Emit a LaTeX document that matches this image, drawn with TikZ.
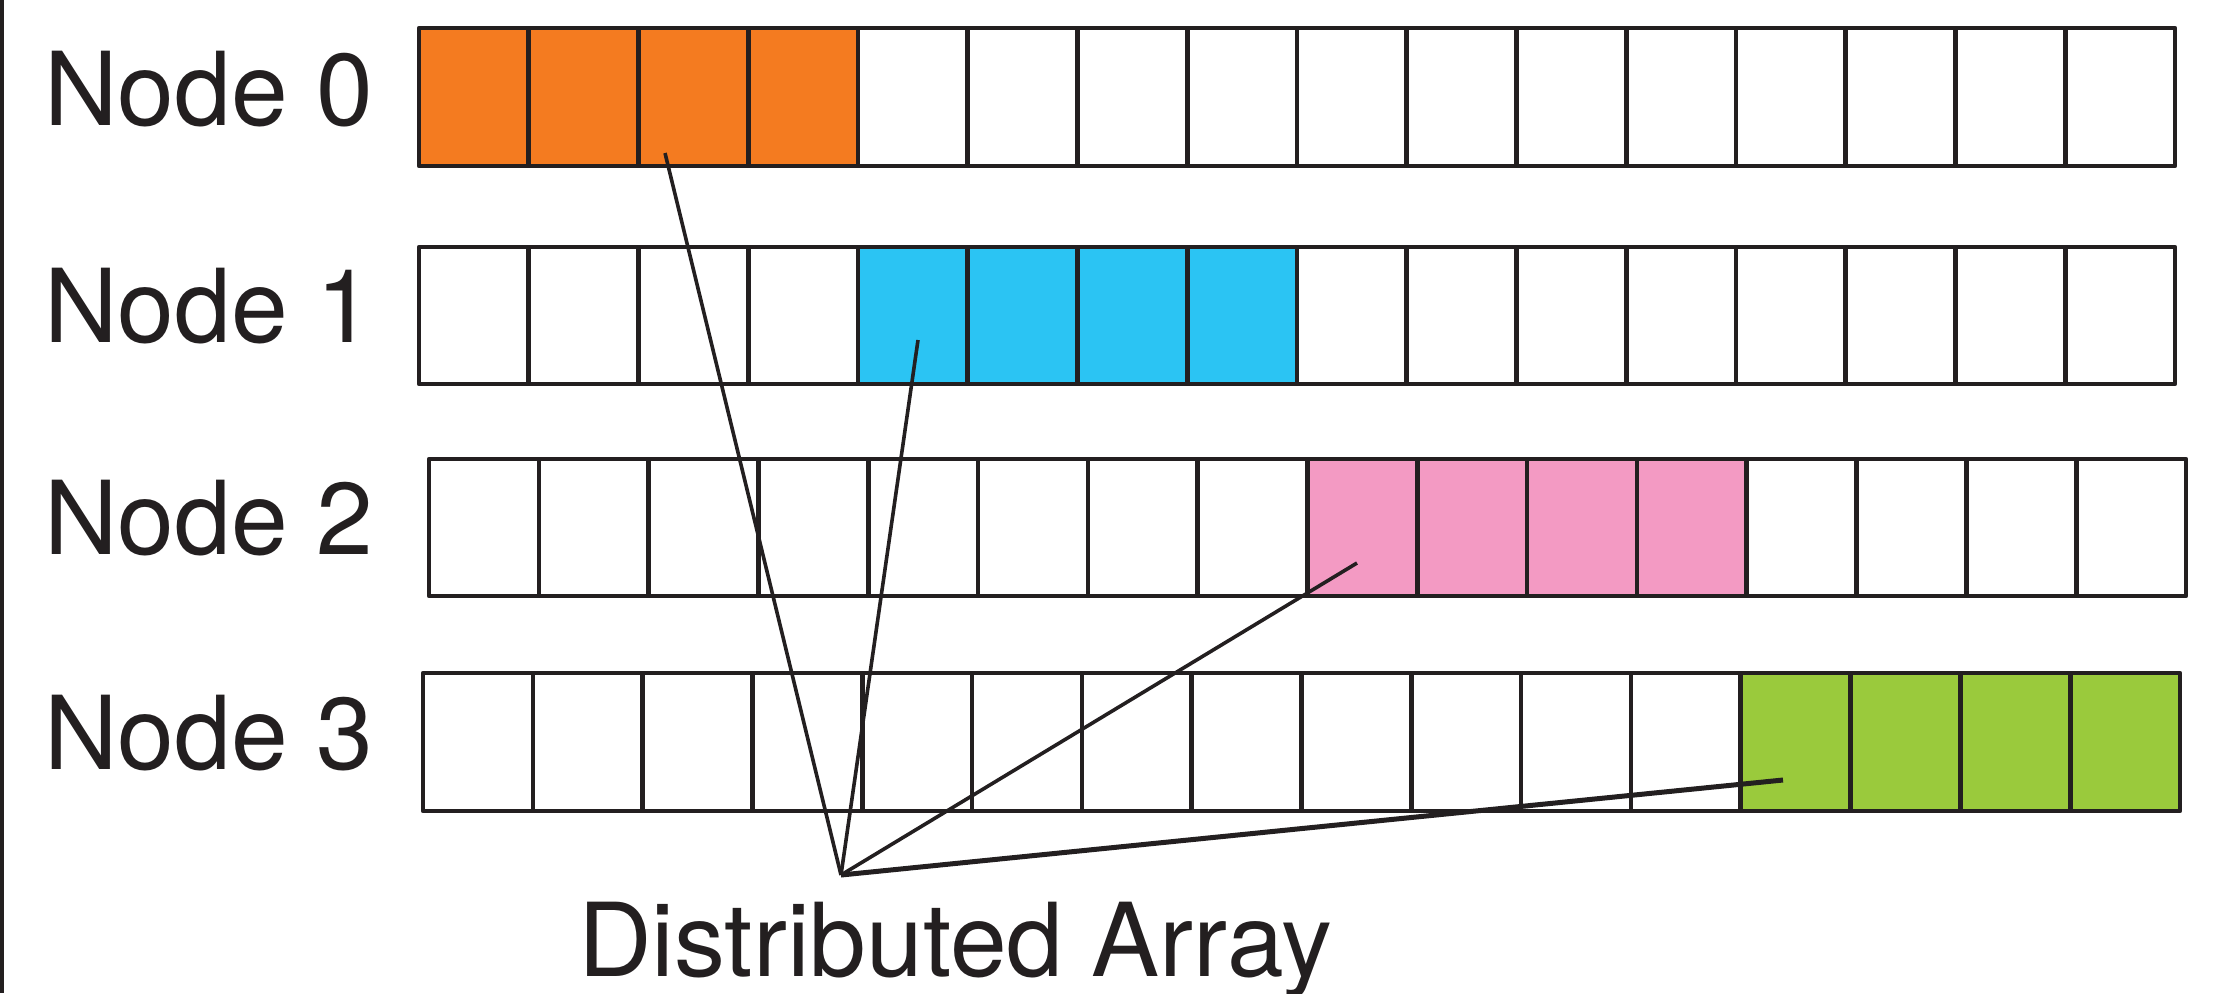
\documentclass[tikz,border=0pt]{standalone}
\usepackage{fontspec}
\setmainfont{TeX Gyre Heros}
\definecolor{ink}{HTML}{231F20}
\definecolor{orangeA}{HTML}{F47B20}
\definecolor{cyanA}{HTML}{2BC4F3}
\definecolor{pinkA}{HTML}{F39AC3}
\definecolor{greenA}{HTML}{9ACA3C}
\begin{document}
\begin{tikzpicture}[x=0.5pt,y=-0.5pt,
  cellbox/.style={draw=ink, line width=2.3pt, line join=round},
  link/.style={draw=ink, line width=1.8pt},
  thicklink/.style={draw=ink, line width=2.5pt},
  lbl/.style={anchor=base west, inner sep=0pt, outer sep=0pt, font=\fontsize{51}{61}\selectfont, text=ink}]
\useasboundingbox (0,0) rectangle (2233,993);
% left rule
\draw[ink, line width=2pt] (2,0) -- (2,993);
% labels
\node[lbl] (n0) at (44,125) {Node 0};
\node[lbl] (n1) at (44,342) {Node 1};
\node[lbl] (n2) at (44,554) {Node 2};
\node[lbl] (n3) at (44,769) {Node 3};
\node[lbl] (da) at (578,976) {Distributed Array};
% arrays
\foreach \x/\y/\xr/\yb/\c/\s in {419/28/2175/166/orangeA/0, 419/247/2175/384/cyanA/4, 429/459/2186/596/pinkA/8, 423/673/2180/811/greenA/12}{
  \pgfmathsetmacro{\w}{(\xr-\x)/16}
  \fill[\c] ({\x+\s*\w},\y) rectangle ({\x+(\s+4)*\w},\yb);
  \foreach \i in {0,...,15}{
    \draw[cellbox] ({\x+\i*\w},\y) rectangle ({\x+(\i+1)*\w},\yb);
  }
}
% connectors
\coordinate (hub) at (841,875);
\coordinate (e0) at (665,153);
\coordinate (e1) at (918,340);
\coordinate (e2) at (1357,563);
\coordinate (e3) at (1783,780);
\draw[link] (hub) -- (e0);
\draw[link] (hub) -- (e1);
\draw[link] (hub) -- (e2);
\draw[thicklink] (hub) -- (e3);
\end{tikzpicture}
\end{document}
